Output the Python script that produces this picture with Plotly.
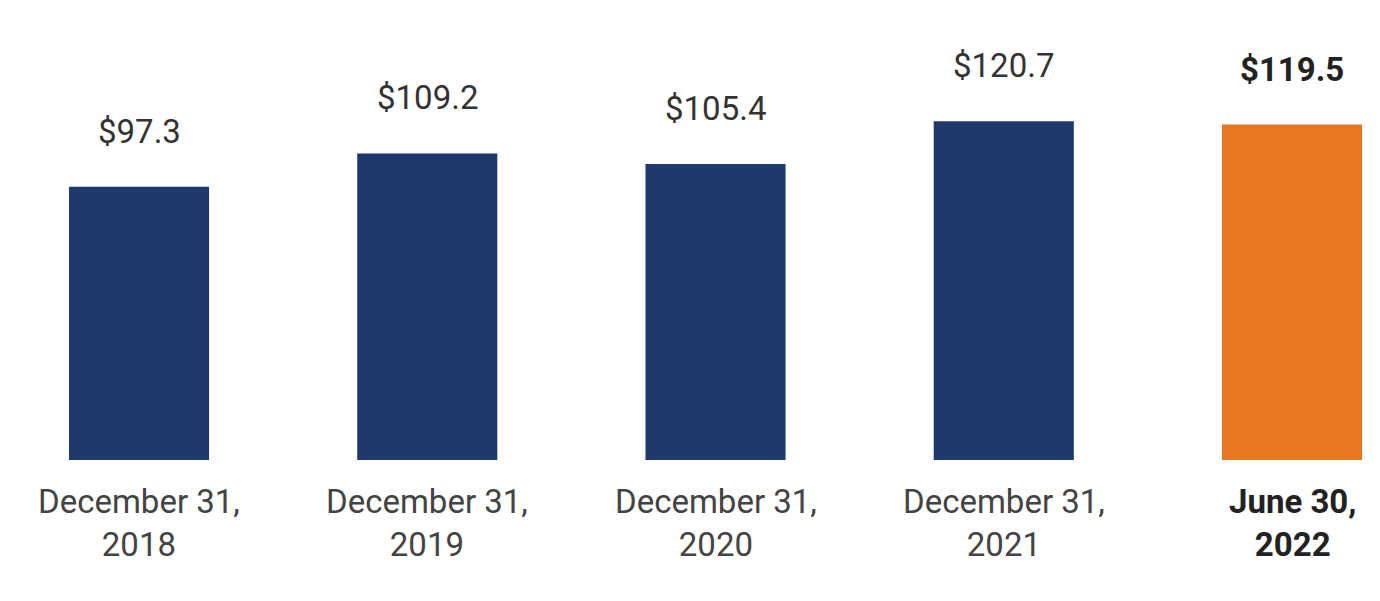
import plotly.graph_objects as go

line1 = ["December 31,", "December 31,", "December 31,", "December 31,", "June 30,"]
line2 = ["2018", "2019", "2020", "2021", "2022"]
values = [97.3, 109.2, 105.4, 120.7, 119.5]
colors = ["#1e3a6b", "#1e3a6b", "#1e3a6b", "#1e3a6b", "#e87722"]
xs = list(range(len(values)))

fig = go.Figure(go.Bar(x=xs, y=values, marker_color=colors, width=0.486,
                       marker_line_width=0))
for i, v in enumerate(values):
    bold = i == len(values) - 1
    fig.add_annotation(x=i, y=v, text=f"<b>${v}</b>" if bold else f"${v}",
                       showarrow=False, yanchor="bottom", yshift=34,
                       font=dict(family="Roboto", size=33, color="#222" if bold else "#333"))
    lbl = f"{line1[i]}<br>{line2[i]}"
    if bold:
        lbl = f"<b>{line1[i]}</b><br><b>{line2[i]}</b>"
    fig.add_annotation(x=i, y=0, yref="y", text=lbl, showarrow=False,
                       yanchor="top", yshift=-20,
                       font=dict(family="Roboto", size=33, color="#222" if bold else "#444"))

fig.update_layout(width=1380, height=601, margin=dict(l=0, r=0, t=0, b=149),
                  plot_bgcolor="white", paper_bgcolor="white", showlegend=False)
fig.update_xaxes(range=[-0.4545, 4.333], visible=False)
fig.update_yaxes(range=[0, 161], visible=False)
fig.write_html("out.html")
